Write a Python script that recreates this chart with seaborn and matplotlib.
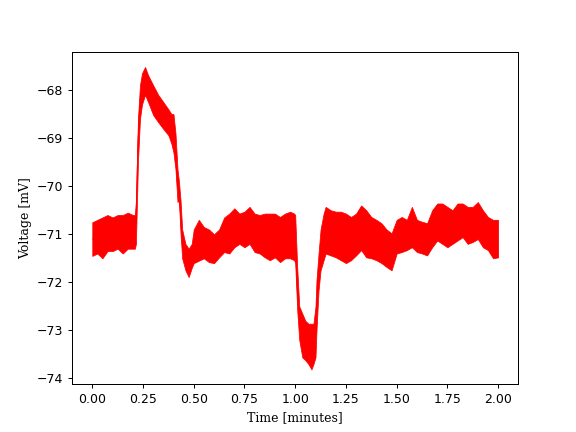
import pandas as pd
import seaborn as sns
import matplotlib
matplotlib.use("Agg")
import matplotlib.pyplot as plt

# -----------------------------------------------------------------------------
# Data: envelope (min / max) of the recorded trace, read off the reference
# -----------------------------------------------------------------------------
time_min = [
    0.000, 0.025, 0.050, 0.075, 0.100, 0.125, 0.150, 0.175, 0.200, 0.210,
    0.215, 0.225, 0.235, 0.245, 0.260, 0.275, 0.300, 0.325, 0.350, 0.375,
    0.390, 0.400, 0.410, 0.420, 0.427, 0.435, 0.443, 0.459, 0.475, 0.490,
    0.500, 0.525, 0.550, 0.575, 0.600, 0.625, 0.650, 0.675, 0.700, 0.725,
    0.750, 0.775, 0.800, 0.825, 0.850, 0.875, 0.900, 0.925, 0.950, 0.975,
    0.995, 1.000, 1.010, 1.020, 1.035, 1.050, 1.065, 1.080, 1.090, 1.100,
    1.105, 1.115, 1.125, 1.140, 1.150, 1.175, 1.200, 1.225, 1.250, 1.275,
    1.300, 1.325, 1.350, 1.375, 1.400, 1.425, 1.450, 1.475, 1.500, 1.525,
    1.550, 1.575, 1.600, 1.625, 1.650, 1.675, 1.700, 1.725, 1.750, 1.775,
    1.800, 1.825, 1.850, 1.875, 1.900, 1.925, 1.950, 1.975, 2.000,
]

voltage_low = [
    -71.45, -71.40, -71.50, -71.35, -71.35, -71.30, -71.40, -71.30, -71.30, -71.30,
    -71.20, -69.50, -68.60, -68.30, -68.10, -68.25, -68.52, -68.67, -68.81, -68.94,
    -69.12, -69.30, -69.65, -70.33, -70.30, -71.00, -71.50, -71.75, -71.89, -71.70,
    -71.60, -71.55, -71.50, -71.58, -71.60, -71.48, -71.37, -71.40, -71.27, -71.20,
    -71.27, -71.20, -71.37, -71.40, -71.48, -71.54, -71.48, -71.58, -71.50, -71.50,
    -71.54, -71.60, -72.58, -73.20, -73.56, -73.62, -73.70, -73.81, -73.70, -73.56,
    -73.00, -72.17, -71.75, -71.54, -71.40, -71.44, -71.48, -71.54, -71.60, -71.54,
    -71.44, -71.33, -71.48, -71.50, -71.54, -71.60, -71.68, -71.75, -71.40, -71.37,
    -71.33, -71.27, -71.37, -71.40, -71.44, -71.27, -71.13, -71.20, -71.27, -71.20,
    -71.13, -71.06, -71.20, -71.16, -71.10, -71.27, -71.33, -71.50, -71.48,
]

voltage_high = [
    -70.75, -70.70, -70.65, -70.60, -70.65, -70.60, -70.60, -70.55, -70.60, -70.60,
    -70.30, -68.60, -67.90, -67.65, -67.52, -67.69, -67.90, -68.10, -68.25, -68.40,
    -68.50, -68.50, -68.90, -69.65, -69.90, -70.30, -70.90, -71.20, -71.30, -71.20,
    -70.90, -70.70, -70.85, -70.90, -71.00, -70.90, -70.65, -70.57, -70.46, -70.57,
    -70.53, -70.43, -70.57, -70.60, -70.57, -70.57, -70.57, -70.64, -70.57, -70.53,
    -70.57, -70.60, -71.70, -72.50, -72.65, -72.80, -72.86, -72.86, -72.86, -72.50,
    -71.95, -71.40, -70.90, -70.57, -70.43, -70.50, -70.53, -70.53, -70.57, -70.64,
    -70.57, -70.40, -70.50, -70.64, -70.70, -70.77, -70.90, -70.98, -70.70, -70.64,
    -70.70, -70.43, -70.70, -70.74, -70.77, -70.50, -70.36, -70.36, -70.43, -70.50,
    -70.36, -70.36, -70.43, -70.43, -70.33, -70.50, -70.64, -70.70, -70.70,
]


def main():
    # long form: two samples (min and max) per time point
    df = pd.DataFrame({
        "time": time_min + time_min,
        "voltage": voltage_low + voltage_high,
    })

    fig, ax = plt.subplots(figsize=(6.4, 4.8), dpi=90)

    # percentile interval of 100 -> band spans min..max of the trace
    sns.lineplot(
        data=df, x="time", y="voltage", ax=ax,
        estimator="mean", errorbar=("pi", 100),
        color="red", linewidth=0.6,
        err_kws={"alpha": 1.0, "linewidth": 0.6, "edgecolor": "red"},
    )

    ax.set_xlabel("Time [minutes]", family="DejaVu Serif")
    ax.set_ylabel("Voltage [mV]", family="DejaVu Serif")
    ax.set_xticks([0.0, 0.25, 0.5, 0.75, 1.0, 1.25, 1.5, 1.75, 2.0])

    fig.savefig("out.png", dpi=90)


if __name__ == "__main__":
    main()
